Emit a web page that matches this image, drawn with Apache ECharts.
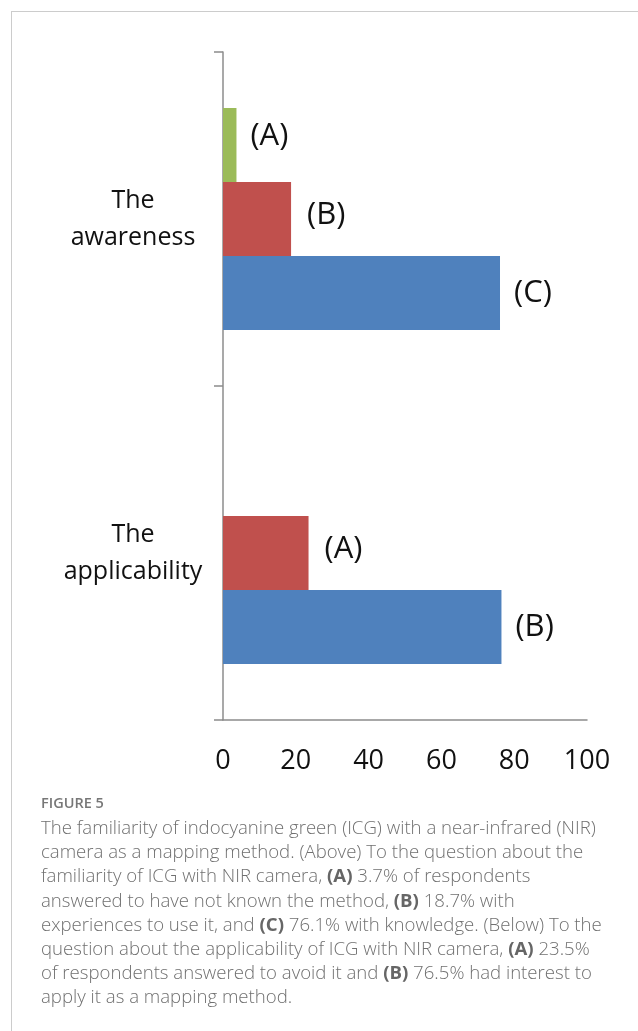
<!DOCTYPE html>
<html>
<head>
<meta charset="utf-8">
<script src="https://cdn.jsdelivr.net/npm/echarts@6/dist/echarts.min.js"></script>
<style>
  html, body { margin: 0; padding: 0; background: #fff; }
  #frame { position: absolute; left: 11px; top: 11px; width: 627px; height: 1020px;
           border-top: 1px solid #cccccc; border-left: 1px solid #cccccc; }
  #chart { position: absolute; left: 0; top: 0; width: 638px; height: 1031px; }
  #caption { position: absolute; left: 41px; top: 793px; width: 597px;
             font-family: "Open Sans", Lato, sans-serif; color: #707070; white-space: nowrap; }
  #caption .fig { font-size: 14.5px; line-height: 20px; font-weight: 600; color: #777; margin-bottom: 2px; }
  #caption .txt { font-size: 18.6px; line-height: 24.2px; font-weight: 300; }
  #caption b { font-weight: 700; color: #666; }
</style>
</head>
<body>
<div id="frame"></div>
<div id="chart"></div>
<div id="caption">
  <div class="fig">FIGURE 5</div>
  <div class="txt">The familiarity of indocyanine green (ICG) with a near-infrared (NIR)<br>camera as a mapping method. (Above) To the question about the<br>familiarity of ICG with NIR camera, <b>(A)</b> 3.7% of respondents<br>answered to have not known the method, <b>(B)</b> 18.7% with<br>experiences to use it, and <b>(C)</b> 76.1% with knowledge. (Below) To the<br>question about the applicability of ICG with NIR camera, <b>(A)</b> 23.5%<br>of respondents answered to avoid it and <b>(B)</b> 76.5% had interest to<br>apply it as a mapping method.</div>
</div>
<script>
// ---- data ----
const categories = ['The awareness', 'The applicability'];
const seriesGreen = [3.7, null];
const seriesRed = [18.7, 23.5];
const seriesBlue = [76.1, 76.5];
const labelsGreen = ['(A)', ''];
const labelsRed = ['(B)', '(A)'];
const labelsBlue = ['(C)', '(B)'];
const xTicks = [0, 20, 40, 60, 80, 100];

const FONT = '"Open Sans", "Noto Sans", sans-serif';
const chart = echarts.init(document.getElementById('chart'), null, { renderer: 'canvas' });

function barSeries(name, data, labels, color, offset) {
  return {
    name: name,
    type: 'bar',
    data: data,
    barGap: '0%',
    barCategoryGap: '33.5%',
    itemStyle: { color: color },
    label: {
      show: true,
      position: 'right',
      distance: 14,
      offset: offset,
      fontFamily: FONT,
      fontSize: 31,
      color: '#111',
      formatter: p => labels[p.dataIndex]
    },
    emphasis: { disabled: true },
    animation: false
  };
}

chart.setOption({
  animation: false,
  grid: { left: 223, right: 51, top: 52, bottom: 311, containLabel: false },
  xAxis: {
    type: 'value',
    min: 0, max: 100, interval: 20,
    axisLine: { show: true, lineStyle: { color: '#8c8c8c', width: 1.5 } },
    axisTick: { show: false },
    splitLine: { show: false },
    axisLabel: {
      margin: 28, fontSize: 27, color: '#111', fontFamily: FONT,
      formatter: v => xTicks.includes(v) ? String(v) : ''
    }
  },
  yAxis: {
    type: 'category',
    inverse: true,
    data: categories,
    axisLine: { show: true, lineStyle: { color: '#8c8c8c', width: 1.5 } },
    axisTick: { show: true, length: 9, lineStyle: { color: '#8c8c8c', width: 1.5 } },
    axisLabel: {
      margin: 90, align: 'center', fontSize: 25, lineHeight: 37, color: '#111', fontFamily: FONT,
      formatter: v => v.replace(' ', '\n')
    }
  },
  series: [
    barSeries('A', seriesGreen, labelsGreen, '#9bbb59', [0, -9]),
    barSeries('B', seriesRed, labelsRed, '#c0504d', [2, -4]),
    barSeries('C', seriesBlue, labelsBlue, '#4f81bd', [0, 0])
  ]
});
</script>
</body>
</html>
